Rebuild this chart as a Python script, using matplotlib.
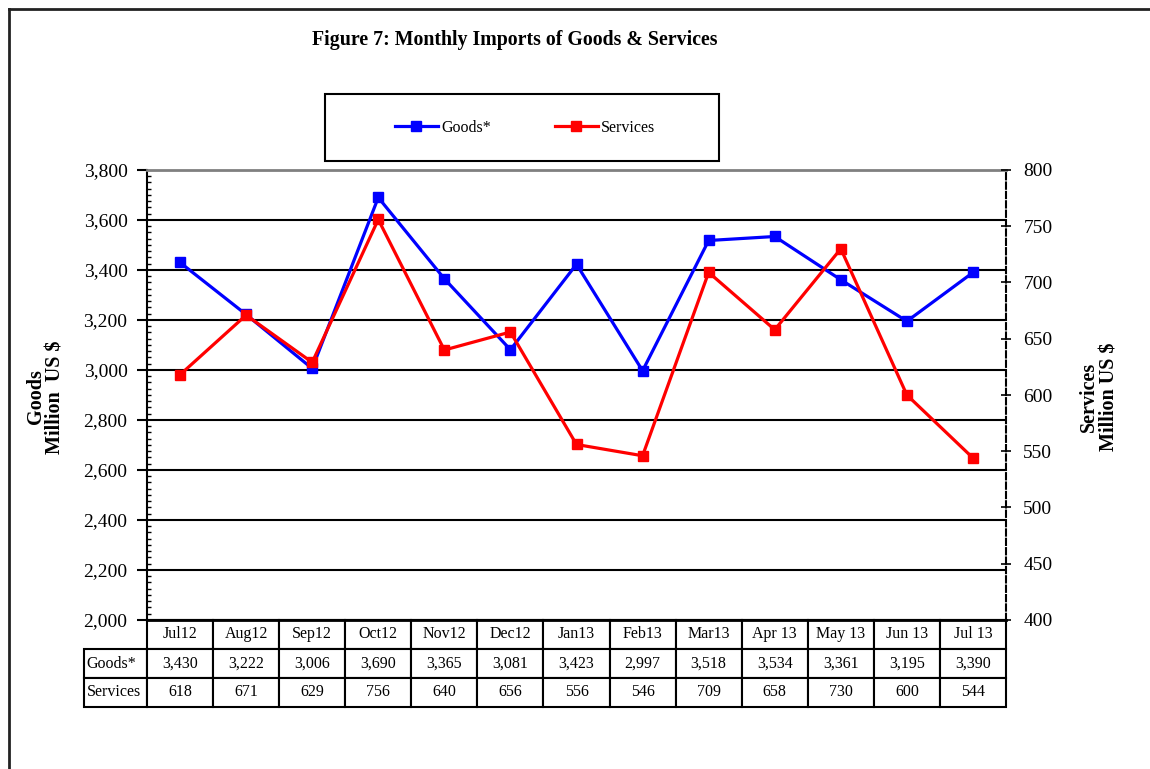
import matplotlib
matplotlib.use("Agg")
import matplotlib.pyplot as plt
from matplotlib.table import Table
from matplotlib.patches import Rectangle
from matplotlib.lines import Line2D
from matplotlib.ticker import MultipleLocator, StrMethodFormatter

months = ["Jul12", "Aug12", "Sep12", "Oct12", "Nov12", "Dec12", "Jan13",
          "Feb13", "Mar13", "Apr 13", "May 13", "Jun 13", "Jul 13"]
goods = [3430, 3222, 3006, 3690, 3365, 3081, 3423, 2997, 3518, 3534, 3361, 3195, 3390]
services = [618, 671, 629, 756, 640, 656, 556, 546, 709, 658, 730, 600, 544]

plt.rcParams['font.family'] = ['Liberation Serif', 'DejaVu Serif']

W, H = 1150, 769
fig = plt.figure(figsize=(W / 100, H / 100), dpi=100)

# plot area in pixels
x0, x1, ytop, ybot = 147, 1006, 170, 620
ax = fig.add_axes([x0 / W, 1 - ybot / H, (x1 - x0) / W, (ybot - ytop) / H])
ax2 = ax.twinx()

xs = list(range(len(months)))
ax.plot(xs, goods, color='#0000ff', lw=2.3, marker='s', ms=6.5, label='Goods*', zorder=3)
ax2.plot(xs, services, color='#ff0000', lw=2.3, marker='s', ms=6.5, label='Services', zorder=3)

ax.set_xlim(-0.5, len(months) - 0.5)
ax.set_ylim(2000, 3800)
ax2.set_ylim(400, 800)
ax.set_xticks([])

ax.yaxis.set_major_locator(MultipleLocator(200))
ax.yaxis.set_minor_locator(MultipleLocator(25))
ax.yaxis.set_major_formatter(StrMethodFormatter('{x:,.0f}'))
ax.tick_params(axis='y', which='major', direction='out', length=7, width=1.5,
               labelsize=14, pad=7)
ax.tick_params(axis='y', which='minor', direction='in', length=3, width=1)

ax2.yaxis.set_major_locator(MultipleLocator(50))
ax2.tick_params(axis='y', which='major', direction='inout', length=7, width=1.2,
                labelsize=14, pad=9)

ax.grid(axis='y', color='black', lw=1.5)
ax.set_axisbelow(True)

for s in ['top', 'bottom', 'left', 'right']:
    ax2.spines[s].set_visible(False)
ax2.spines['right'].set_visible(True)
ax2.spines['right'].set_linestyle((0, (3, 1.5)))
ax2.spines['right'].set_linewidth(1.5)
ax.spines['right'].set_visible(False)
ax.spines['top'].set_color('#808080')
ax.spines['top'].set_linewidth(2)
ax.spines['left'].set_linewidth(1.5)
ax.spines['bottom'].set_linewidth(2)

# data table under the plot
tx0, tbot = 84, 707
tbl = Table(ax, bbox=[(tx0 - x0) / (x1 - x0), -(tbot - ybot) / (ybot - ytop),
                      (x1 - tx0) / (x1 - x0), (tbot - ybot) / (ybot - ytop)])
rows = [[""] + months,
        ["Goods*"] + [f"{v:,}" for v in goods],
        ["Services"] + [str(v) for v in services]]
for r, row in enumerate(rows):
    for c, txt in enumerate(row):
        w = 63 if c == 0 else 66
        cell = tbl.add_cell(r, c, width=w, height=29, text=txt,
                            loc='left' if c == 0 else 'center')
        cell.set_linewidth(1.5)
        cell.get_text().set_fontsize(11.5)
        if c == 0:
            cell.PAD = 0.04
        if r == 0 and c == 0:
            cell.visible_edges = ''
tbl.auto_set_font_size(False)
ax.add_table(tbl)

# titles and axis labels
fig.text(515 / W, 1 - 40 / H, "Figure 7: Monthly Imports of Goods & Services",
         ha='center', va='center', fontsize=14.3, fontweight='bold')
fig.text(46 / W, 1 - 397 / H, "Goods\nMillion  US $", rotation=90, ha='center',
         va='center', fontsize=14.5, fontweight='bold', multialignment='center',
         linespacing=1.0)
fig.text(1099 / W, 1 - 397 / H, "Services\nMillion US $", rotation=90, ha='center',
         va='center', fontsize=14.5, fontweight='bold', multialignment='center',
         linespacing=1.0)

# legend box
fig.patches.append(Rectangle((325 / W, 1 - 161 / H), (719 - 325) / W, 67 / H,
                             transform=fig.transFigure, fill=False, ec='black', lw=1.5))
h1, l1 = ax.get_legend_handles_labels()
h2, l2 = ax2.get_legend_handles_labels()
fig.legend(h1 + h2, l1 + l2, loc='center', bbox_to_anchor=(525 / W, 1 - 128 / H),
           ncol=2, frameon=False, fontsize=11.5, handlelength=2.7,
           handletextpad=0.2, columnspacing=4.0, markerscale=1.0)

# outer frame
fig.add_artist(Line2D([9 / W, 9 / W], [0, 1 - 9 / H], color='#222222', lw=2))
fig.add_artist(Line2D([9 / W, 1], [1 - 9 / H, 1 - 9 / H], color='#222222', lw=2))

fig.savefig("out.png", dpi=100)
